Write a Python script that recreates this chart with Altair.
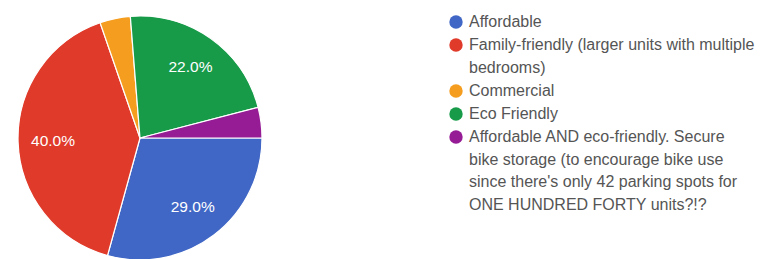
import json
import math
import altair as alt
import pandas as pd

categories = [
    "Affordable",
    "Family-friendly (larger units with multiple bedrooms)",
    "Commercial",
    "Eco Friendly",
    "Affordable AND eco-friendly. Secure bike storage (to encourage bike use since there's only 42 parking spots for ONE HUNDRED FORTY units?!?",
]
percents = [29.0, 40.0, 4.0, 22.0, 4.0]
colors = ["#4067c5", "#e03a2a", "#f59d1e", "#179b49", "#951c95"]
wrapped = [
    ["Affordable"],
    ["Family-friendly (larger units with multiple", "bedrooms)"],
    ["Commercial"],
    ["Eco Friendly"],
    ["Affordable AND eco-friendly. Secure", "bike storage (to encourage bike use",
     "since there's only 42 parking spots for", "ONE HUNDRED FORTY units?!?"],
]

df = pd.DataFrame({"category": categories, "value": percents, "order": list(range(len(categories)))})

label_expr = ""
for name, lines in zip(categories, wrapped):
    label_expr += f"datum.label === {json.dumps(name)} ? {json.dumps(lines)} : "
label_expr += "datum.label"

FONT = "Liberation Sans"

theta = alt.Theta("value:Q", stack=True,
                  scale=alt.Scale(range=[math.pi / 2, math.pi / 2 + 2 * math.pi]))
color = alt.Color(
    "category:N",
    scale=alt.Scale(domain=categories, range=colors),
    sort=categories,
    legend=alt.Legend(
        title=None,
        orient="none",
        legendX=430,
        legendY=-2,
        symbolType="circle",
        symbolSize=180,
        symbolStrokeWidth=0,
        labelFont=FONT,
        labelFontSize=16,
        labelColor="#555555",
        labelLimit=400,
        labelOffset=5,
        labelBaseline="top",
        rowPadding=7,
        labelExpr=label_expr,
    ),
)

base = alt.Chart(df).encode(theta=theta, order=alt.Order("order:Q"))

pie = base.mark_arc(outerRadius=122, stroke="white", strokeWidth=1.2).encode(color=color)

labels = base.transform_calculate(
    label="datum.value >= 10 ? format(datum.value, '.1f') + '%' : ''"
).mark_text(radius=87, font=FONT, fontSize=15.5, color="white").encode(text="label:N")

chart = (
    alt.layer(pie, labels)
    .properties(width=244, height=244, padding={"left": 7, "top": 5, "right": 0, "bottom": 0})
    .configure(style={"guide-label": {"lineHeight": 22.5, "dy": -8}})
    .configure_view(stroke=None)
)

chart.save("out.html", embed_options={"renderer": "svg", "actions": False})
